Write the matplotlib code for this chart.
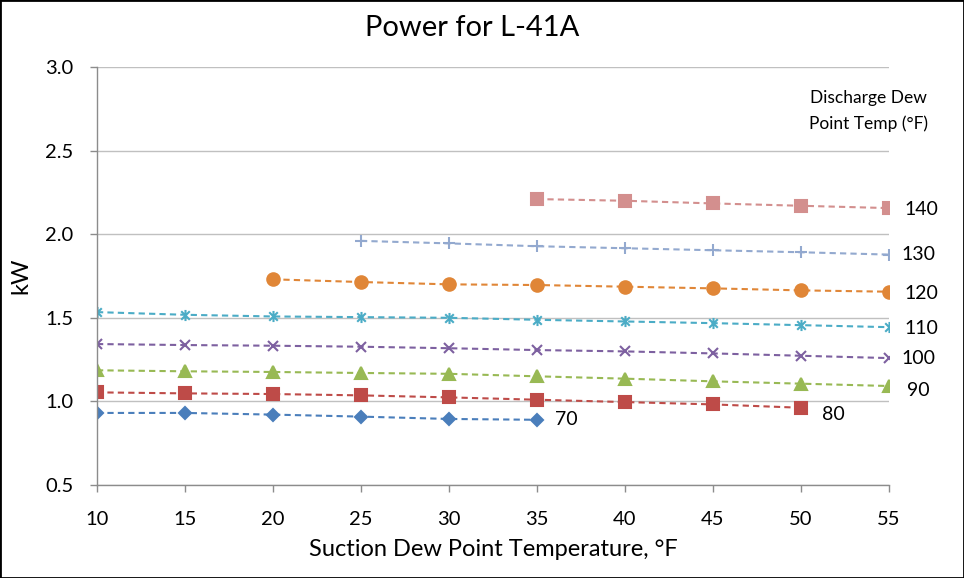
import matplotlib.pyplot as plt
from matplotlib.path import Path
from matplotlib.patches import Rectangle

plt.rcParams['font.family'] = ['Lato', 'DejaVu Sans']

# suction dew point temperatures (F)
x_all = [10, 15, 20, 25, 30, 35, 40, 45, 50, 55]

# power (kW) per discharge dew point temp
kw_70 = [0.931, 0.931, 0.921, 0.909, 0.895, 0.890]
kw_80 = [1.054, 1.048, 1.044, 1.036, 1.024, 1.010, 0.996, 0.982, 0.962]
kw_90 = [1.186, 1.180, 1.176, 1.170, 1.165, 1.150, 1.136, 1.120, 1.106, 1.092]
kw_100 = [1.343, 1.337, 1.333, 1.327, 1.318, 1.307, 1.299, 1.287, 1.273, 1.259]
kw_110 = [1.534, 1.518, 1.508, 1.504, 1.500, 1.488, 1.478, 1.468, 1.456, 1.444]
kw_120 = [1.730, 1.714, 1.700, 1.696, 1.686, 1.676, 1.664, 1.656]
kw_130 = [1.960, 1.945, 1.928, 1.916, 1.904, 1.892, 1.878]
kw_140 = [2.210, 2.200, 2.184, 2.170, 2.156]

labels = ['70', '80', '90', '100', '110', '120', '130', '140']

# excel style asterisk: X plus a vertical bar
star = Path([(-1, -1), (1, 1), (-1, 1), (1, -1), (0, -1.3), (0, 1.3)],
            [Path.MOVETO, Path.LINETO, Path.MOVETO, Path.LINETO,
             Path.MOVETO, Path.LINETO])

series = [
    (x_all[:6], kw_70, '#4A7EBB', 'D', 6.5, (13, 0)),
    (x_all[:9], kw_80, '#BE4B48', 's', 8.5, (15, -5)),
    (x_all, kw_90, '#98B954', '^', 9, (13, -3)),
    (x_all, kw_100, '#7D60A0', 'x', 7, (9, 0)),
    (x_all, kw_110, '#4BACC6', star, 8, (11, -1)),
    (x_all[2:], kw_120, '#E08637', 'o', 9, (11, -1)),
    (x_all[3:], kw_130, '#93A9CF', '+', 8.5, (9, 0)),
    (x_all[5:], kw_140, '#D38F8E', 's', 9, (11, -1)),
]

fig = plt.figure(figsize=(9.64, 5.78), dpi=100)
ax = fig.add_axes([0.1006, 0.1609, 0.8216, 0.7232])

for (xs, ys, col, mk, ms, off), lab in zip(series, labels):
    ax.plot(xs, ys, color=col, linestyle=(0, (3, 2)), linewidth=1.5,
            marker=mk, markersize=ms, markeredgewidth=1.5,
            markerfacecolor=col, markeredgecolor=col)
    ax.annotate(lab, (xs[-1], ys[-1]), xytext=off, textcoords='offset points',
                ha='left', va='center', fontsize=14)

ax.set_xlim(10, 55)
ax.set_ylim(0.5, 3.0)
ax.set_xticks(range(10, 56, 5))
ax.set_yticks([0.5, 1.0, 1.5, 2.0, 2.5, 3.0])
ax.set_yticklabels(['%.1f' % v for v in ax.get_yticks()])
ax.yaxis.grid(True, color='#C0C0C0', linewidth=1)
ax.set_axisbelow(True)
for s in ['top', 'right']:
    ax.spines[s].set_visible(False)
for s in ['left', 'bottom']:
    ax.spines[s].set_color('#8C8C8C')
    ax.spines[s].set_linewidth(1)
ax.tick_params(colors='#8C8C8C', labelcolor='black', labelsize=14.5,
               length=5, width=1)
ax.tick_params(axis='x', pad=14)
ax.tick_params(axis='y', pad=12)
ax.set_xlabel('Suction Dew Point Temperature, °F', fontsize=17, labelpad=8)
ax.set_ylabel('kW', fontsize=17, labelpad=10)

# title sits a bit left of the axes centre in the original
fig.text(0.49, 0.951, 'Power for L-41A', ha='center', va='center', fontsize=21)

fig.text(0.901, 0.808, 'Discharge Dew\nPoint Temp (°F)', ha='center',
         va='center', fontsize=12.5, linespacing=1.75)

fig.patches.append(Rectangle((0, 0), 1, 1, transform=fig.transFigure,
                             fill=False, edgecolor='black', linewidth=2))

plt.savefig('out.png', dpi=100)
